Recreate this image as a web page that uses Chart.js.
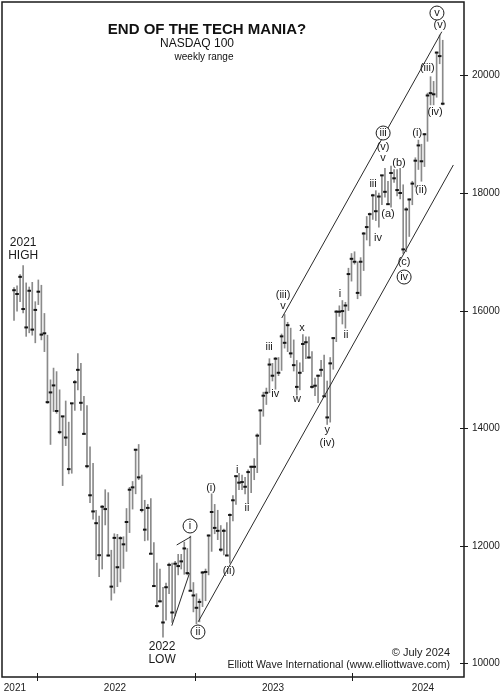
<!DOCTYPE html>
<html>
<head>
<meta charset="utf-8">
<title>NASDAQ 100 weekly range</title>
<script src="https://cdn.jsdelivr.net/npm/chart.js@4.4.1/dist/chart.umd.min.js"></script>
<style>
html,body{margin:0;padding:0;background:#fff;}
#wrap{width:500px;height:693px;}
</style>
</head>
<body>
<div id="wrap"><canvas id="ndxChart" width="500" height="693"></canvas></div>
<script>

// -------------------------------------
// DATA (weekly bars, first bar = week of Nov 1 2021)
// -------------------------------------

const highs = [
16390,16420,16610,16764,16470,16400,16480,16150,16520,16430,
15950,15580,14820,15020,14960,14650,14200,14460,14100,14420,
14810,15265,15100,14540,14380,13680,13400,12600,12500,12680,
12950,12900,11920,12200,12190,12150,12150,12630,12990,13090,
13640,13720,13200,12770,12700,12800,12050,11700,11600,11290,
11360,11700,11700,11730,11850,11850,12060,11950,12160,11370,
11180,11090,11560,11600,12180,12880,12700,12600,12340,12280,
12390,12540,12850,13180,13230,13200,13160,13290,13350,13480,
13900,14300,14610,14680,15180,15100,15200,15200,15600,15932,
15800,15700,15500,15150,15110,15590,15550,15550,15300,14850,
14900,15150,15240,14800,15200,15540,16000,16080,16170,16140,
16720,16970,17000,16830,16900,17330,17600,17660,17980,18040,
18000,18300,18420,18200,18460,18400,18400,18420,18140,17750,
17900,18200,18600,18900,18830,19010,19700,19980,19900,20400,
20690,20600
];

const lows = [
15830,15990,16150,15960,15560,15620,15580,15450,16100,15500,
15300,14420,13720,14280,14250,13900,13020,13700,13220,13230,
14300,14650,14300,13900,13320,12730,12450,11760,11470,11600,
12350,11820,11070,11190,11300,11380,11610,11900,12220,12620,
12880,13120,12570,12080,12090,11880,11300,10950,11040,10440,
10730,11180,10690,10800,11500,11600,11510,11500,11230,10870,
10670,10700,10960,11060,11500,11900,12200,12100,11900,11840,
11830,11700,12420,12700,12950,12950,12880,12720,12900,13120,
13240,13720,14200,14400,14600,14800,14660,14890,14980,15360,
15300,15200,14970,14560,14650,14960,15180,15190,14680,14550,
14430,14880,14540,14060,14100,15000,15470,15900,15770,15700,
16000,16500,16790,16200,16250,16680,17200,17100,17550,17530,
17420,17800,17930,17800,17760,18180,17950,17900,16970,17000,
17260,17800,18100,18400,18200,18450,18880,19500,19500,19630,
20200,19500
];

const closes = [
16345,16281,16573,16025,15712,16336,15675,16010,16320,15590,
15612,14440,14606,14725,14290,13930,14198,13838,13300,14420,
14780,14990,14429,13900,13350,12855,12580,12380,11835,12660,
12620,11830,11300,12130,11630,12125,12020,12400,12950,12990,
13630,13160,12605,12270,12640,11860,11310,10970,11050,10690,
11290,11670,10860,11690,11650,11730,11950,11530,11230,11150,
10940,11040,11540,11550,12170,12570,12300,12250,11930,12250,
11830,12520,12770,13180,13070,13080,13000,13250,13340,13340,
13870,14300,14550,14600,15080,14890,15180,14940,15560,15450,
15750,15270,15070,14700,14940,15430,15460,15200,14700,14720,
14890,14990,14540,14180,15100,15530,15980,15980,15990,16085,
16620,16880,16830,16300,16830,17310,17420,17640,17960,17690,
17940,18300,18020,17810,18340,18250,18050,18000,17040,17720,
17890,18160,18550,18810,18540,19000,19660,19700,19680,20390,
20330,19520
];

// axis ticks (x in week numbers)
const priceTicks = [10000, 12000, 14000, 16000, 18000, 20000];
const yearLabels = ["2021", "2022", "2023", "2024"];
const yearLabelAt = [0.3, 33.2, 85.2, 134.5];
const yearTickAt = [7.5, 59.5, 111.2];

// channel and wedge lines (week number, price)
const upperChannel = [{x: 88.06, y: 15872}, {x: 140.7, y: 20745}];
const lowerChannel = [{x: 60.6, y: 10703}, {x: 144.5, y: 18477}];
const wedgeLower = [{x: 51.9, y: 10635}, {x: 57.7, y: 11527}];
const wedgeUpper = [{x: 53.5, y: 12009}, {x: 58.2, y: 12150}];

// wave labels (week number, price); circled = true draws a ring
const waveLabels = [
{t: "2021", x: 3.0, y: 17149, big: true},
{t: "HIGH", x: 3.0, y: 16927, big: true},
{t: "2022", x: 48.7, y: 10272, big: true},
{t: "LOW", x: 48.7, y: 10051, big: true},
{t: "i", x: 57.9, y: 12332, circled: true},
{t: "ii", x: 60.5, y: 10528, circled: true},
{t: "(i)", x: 64.8, y: 12979},
{t: "(ii)", x: 70.7, y: 11566},
{t: "i", x: 73.4, y: 13285},
{t: "ii", x: 76.6, y: 12638},
{t: "iii", x: 83.9, y: 15378},
{t: "iv", x: 85.9, y: 14578},
{t: "(iii)", x: 88.5, y: 16263},
{t: "v", x: 88.5, y: 16075},
{t: "w", x: 93.1, y: 14493},
{t: "x", x: 94.7, y: 15702},
{t: "y", x: 103.0, y: 13966},
{t: "(iv)", x: 103.0, y: 13744},
{t: "i", x: 107.2, y: 16280},
{t: "ii", x: 109.2, y: 15583},
{t: "iii", x: 118.1, y: 18153},
{t: "iv", x: 119.7, y: 17234},
{t: "(a)", x: 123.0, y: 17642},
{t: "iii", x: 121.4, y: 19021, circled: true},
{t: "(v)", x: 121.4, y: 18782},
{t: "v", x: 121.4, y: 18595},
{t: "(b)", x: 126.6, y: 18510},
{t: "(c)", x: 128.3, y: 16825},
{t: "iv", x: 128.3, y: 16570, circled: true},
{t: "(i)", x: 132.6, y: 19021},
{t: "(ii)", x: 133.9, y: 18050},
{t: "(iii)", x: 135.9, y: 20127},
{t: "(iv)", x: 138.5, y: 19378},
{t: "(v)", x: 140.1, y: 20859},
{t: "v", x: 139.1, y: 21063, circled: true}
];


// -------------------------------------
// LABEL / FRAME PLUGIN
// -------------------------------------

const FONT = "'Liberation Sans', Arial, sans-serif";

const decorPlugin = {

id: "decor",

afterDatasetsDraw(chart){

const ctx = chart.ctx;
const area = chart.chartArea;
const xs = chart.scales.x;
const ys = chart.scales.y;

ctx.save();

// frame
ctx.strokeStyle = "#1a1a1a";
ctx.lineWidth = 1.5;
ctx.strokeRect(area.left, area.top, area.right - area.left, area.bottom - area.top);

// crossing tick marks + axis labels
ctx.lineWidth = 1;
ctx.fillStyle = "#1a1a1a";
ctx.font = "10px " + FONT;
ctx.textBaseline = "middle";
ctx.textAlign = "left";
priceTicks.forEach(v => {
const py = Math.round(ys.getPixelForValue(v)) + 0.5;
ctx.beginPath();
ctx.moveTo(area.right - 4, py);
ctx.lineTo(area.right + 4, py);
ctx.stroke();
ctx.fillText(String(v), area.right + 8, py);
});
yearTickAt.forEach(v => {
const px = Math.round(xs.getPixelForValue(v)) + 0.5;
ctx.beginPath();
ctx.moveTo(px, area.bottom - 4);
ctx.lineTo(px, area.bottom + 4);
ctx.stroke();
});
ctx.textAlign = "center";
yearLabels.forEach((t, i) => {
ctx.fillText(t, xs.getPixelForValue(yearLabelAt[i]), area.bottom + 11);
});

// title block
ctx.fillStyle = "#111";
ctx.font = "bold 15px " + FONT;
ctx.fillText("END OF THE TECH MANIA?", 207, 30);
ctx.font = "12px " + FONT;
ctx.fillText("NASDAQ 100", 197, 44);
ctx.font = "10px " + FONT;
ctx.fillText("weekly range", 204, 57);

// wave labels
waveLabels.forEach(l => {
const px = xs.getPixelForValue(l.x);
const py = ys.getPixelForValue(l.y);
if(l.circled){
ctx.beginPath();
ctx.arc(px, py, 7, 0, Math.PI * 2);
ctx.fillStyle = "#fff";
ctx.fill();
ctx.strokeStyle = "#1a1a1a";
ctx.lineWidth = 1;
ctx.stroke();
}
ctx.fillStyle = "#1a1a1a";
ctx.font = (l.big ? "12px " : "11px ") + FONT;
ctx.fillText(l.t, px, py);
});

// credits
ctx.textAlign = "right";
ctx.font = "11px " + FONT;
ctx.fillText("\u00A9 July 2024", 450, 653);
ctx.font = "10.5px " + FONT;
ctx.fillText("Elliott Wave International (www.elliottwave.com)", 450, 665);

ctx.restore();

}

};


// -------------------------------------
// CHART
// -------------------------------------

const ctx = document.getElementById("ndxChart").getContext("2d");

const lineStyle = {
type: "line",
borderColor: "#2a2a2a",
borderWidth: 1,
pointRadius: 0,
fill: false,
order: 0
};

new Chart(ctx, {

type: "bar",

data: {
datasets: [
{
type: "bar",
data: highs.map((h, i) => ({x: i, y: [lows[i], h]})),
backgroundColor: "#8a8a8a",
borderWidth: 0,
barThickness: 1,
grouped: false,
order: 3
},
{
type: "scatter",
data: closes.map((c, i) => ({x: i, y: c})),
pointStyle: "line",
pointRadius: 1.8,
pointBorderWidth: 2,
borderColor: "#151515",
backgroundColor: "#151515",
order: 2
},
Object.assign({data: upperChannel}, lineStyle),
Object.assign({data: lowerChannel}, lineStyle),
Object.assign({data: wedgeLower}, lineStyle),
Object.assign({data: wedgeUpper}, lineStyle)
]
},

options: {
responsive: false,
animation: false,
layout: {autoPadding: false, padding: {left: 2, top: 2, right: 0, bottom: 0}},
plugins: {
legend: {display: false},
tooltip: {enabled: false}
},
scales: {
x: {
type: "linear",
min: -3.95,
max: 148,
offset: false,
grid: {display: false},
border: {display: false},
ticks: {display: false},
afterFit: s => { s.height = 16; }
},
y: {
type: "linear",
position: "right",
min: 9762,
max: 21251,
grid: {display: false},
border: {display: false},
ticks: {display: false},
afterFit: s => { s.width = 36; }
}
}
},

plugins: [decorPlugin]

});

</script>
</body>
</html>
